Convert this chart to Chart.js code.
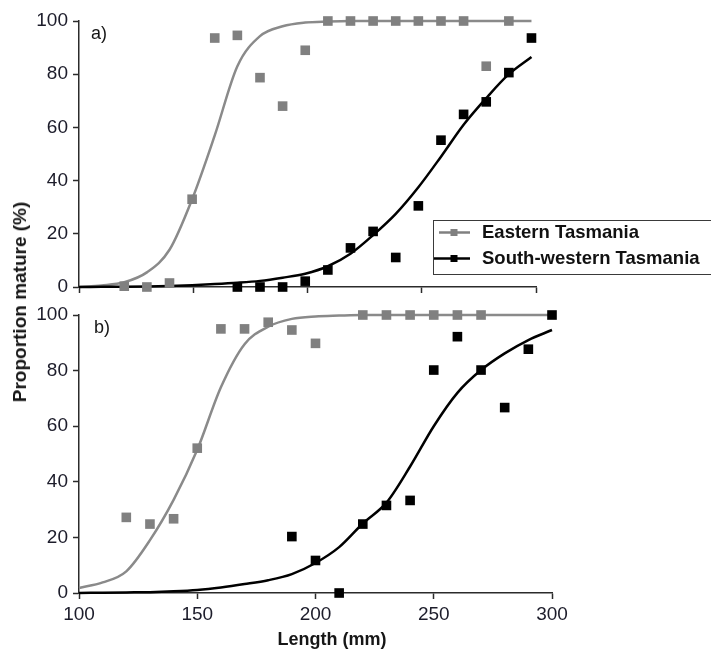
<!DOCTYPE html>
<html>
<head>
<meta charset="utf-8">
<script src="https://cdn.jsdelivr.net/npm/chart.js@4.4.1/dist/chart.umd.min.js"></script>
<style>
  html, body { margin: 0; padding: 0; background: #fff; }
  #wrap { position: relative; width: 711px; height: 649px; overflow: hidden; }
  #wrap canvas { position: absolute; left: 0; top: 0; }
  .lbl { position: absolute; font-family: "Liberation Sans", Arial, sans-serif; color: #161616; white-space: nowrap; }
  #ytitle { left: 20px; top: 302px; font-weight: bold; font-size: 19px; transform: translate(-50%, -50%) rotate(-90deg); }
  #xtitle { left: 332px; top: 639px; font-weight: bold; font-size: 18px; transform: translate(-50%, -50%); }
  #panelA { left: 91px; top: 33px; font-size: 18px; transform: translateY(-50%); }
  #panelB { left: 94px; top: 327px; font-size: 18px; transform: translateY(-50%); }
</style>
</head>
<body>
<div id="wrap">
  <canvas id="bottomChart" width="711" height="649"></canvas>
  <canvas id="topChart" width="711" height="649"></canvas>
  <div class="lbl" id="ytitle">Proportion mature (%)</div>
  <div class="lbl" id="xtitle">Length (mm)</div>
  <div class="lbl" id="panelA">a)</div>
  <div class="lbl" id="panelB">b)</div>
</div>
<script>
// Series names
const SERIES = ["Eastern Tasmania", "South-western Tasmania"];

// Axis ticks
const Y_TICK_STEP = 20;
const X_TICK_STEP = 50;

// Panel a) observed proportions
const TOP_EAST_X = [120, 130, 140, 150, 160, 170, 180, 190, 200, 210, 220, 230, 240, 250, 260, 270, 280, 290];
const TOP_EAST_Y = [0.3, 0, 1.5, 33, 93.6, 94.6, 78.7, 68, 89, 100, 100, 100, 100, 100, 100, 100, 83, 100];
const TOP_SW_X = [170, 180, 190, 200, 210, 220, 230, 240, 250, 260, 270, 280, 290, 300];
const TOP_SW_Y = [0, 0, 0, 2.2, 6.4, 14.7, 20.9, 11.1, 30.5, 55.2, 64.9, 69.6, 80.6, 93.6];

// Panel b) observed proportions
const BOT_EAST_X = [120, 130, 140, 150, 160, 170, 180, 190, 200, 220, 230, 240, 250, 260, 270];
const BOT_EAST_Y = [27.2, 24.8, 26.7, 52.1, 95, 95, 97.4, 94.6, 89.8, 100, 100, 100, 100, 100, 100];
const BOT_SW_X = [190, 200, 210, 220, 230, 240, 250, 260, 270, 280, 290, 300];
const BOT_SW_Y = [20.3, 11.7, 0, 24.8, 31.5, 33.3, 80.2, 92.2, 80.2, 66.7, 87.7, 100];

// Fitted curves, every 10 mm
const FIT_X = [100, 110, 120, 130, 140, 150, 160, 170, 180, 190, 200, 210, 220, 230, 240, 250, 260, 270, 280, 290, 300];
const TOP_EAST_FIT = [0, 0.6, 1.8, 5.5, 14, 33, 57, 83, 94.3, 98, 99.4, 99.8, 100, 100, 100, 100, 100, 100, 100, 100, 100];
const TOP_SW_FIT = [0, 0.05, 0.1, 0.2, 0.4, 0.7, 1.1, 1.6, 2.3, 3.5, 5, 7.8, 12.5, 19.5, 27.5, 37.5, 49, 61, 71, 80, 86.5];
const BOT_EAST_FIT = [1.8, 3.8, 7.8, 19, 33.5, 51.5, 74, 89.5, 95.8, 98.6, 99.5, 99.8, 100, 100, 100, 100, 100, 100, 100, 100, 100];
const BOT_SW_FIT = [0, 0.1, 0.2, 0.3, 0.6, 1.1, 2, 3.2, 4.6, 6.8, 10.8, 16.5, 25, 32.5, 45.5, 60, 72, 80.2, 86.2, 91, 94.6];

const GREY = "#808080";
const GREY_LINE = "#8a8a8a";
const BLACK = "#000000";
const AXIS = "#2b2b2b";
const TEXT = "#1c1c2a";
const TICK_FONT = { family: "'Liberation Sans', Arial, sans-serif", size: 19 };

const pts = (xs, ys) => xs.map((x, i) => ({ x: x, y: ys[i] }));

function panelDatasets(eastX, eastY, eastFit, swX, swY, swFit) {
  return [
    {
      label: SERIES[0], type: "scatter", data: pts(eastX, eastY),
      backgroundColor: GREY, borderWidth: 0, pointStyle: "rect", pointRadius: 6.8, order: 1, clip: false,
    },
    {
      label: SERIES[1], type: "scatter", data: pts(swX, swY),
      backgroundColor: BLACK, borderWidth: 0, pointStyle: "rect", pointRadius: 6.8, order: 0, clip: false,
    },
    {
      label: SERIES[0] + " (fit)", type: "line", data: pts(FIT_X, eastFit),
      borderColor: GREY_LINE, borderWidth: 2.5, pointRadius: 0, cubicInterpolationMode: "monotone", order: 3, clip: false,
    },
    {
      label: SERIES[1] + " (fit)", type: "line", data: pts(FIT_X, swFit),
      borderColor: BLACK, borderWidth: 2.5, pointRadius: 0, cubicInterpolationMode: "monotone", order: 2, clip: false,
    },
  ];
}

function panelScales(xMax, showXLabels, xHeight) {
  return {
    x: {
      type: "linear", min: 100, max: xMax,
      ticks: { stepSize: X_TICK_STEP, display: showXLabels, includeBounds: false, padding: 4, font: TICK_FONT, color: TEXT, maxRotation: 0 },
      grid: { drawOnChartArea: false, tickLength: 6, tickColor: AXIS, tickWidth: 1.5 },
      border: { color: AXIS, width: 1.5 },
      afterFit: (s) => { s.height = xHeight; },
    },
    y: {
      min: 0, max: 100,
      ticks: { stepSize: Y_TICK_STEP, padding: 5, font: TICK_FONT, color: TEXT },
      grid: { drawOnChartArea: false, tickLength: 6, tickColor: AXIS, tickWidth: 1.5 },
      border: { color: AXIS, width: 1.5 },
      afterFit: (s) => { s.width = 79; },
    },
  };
}

// Legend box drawn inside panel a)
const boxLegend = {
  id: "boxLegend",
  afterDraw(chart) {
    const ctx = chart.ctx;
    ctx.save();
    ctx.fillStyle = "#fff";
    ctx.fillRect(433, 220, 290, 55);
    ctx.strokeStyle = "#3a3a3a";
    ctx.lineWidth = 1;
    ctx.strokeRect(433.5, 220.5, 290, 54);
    const rows = [
      { text: SERIES[0], color: GREY, y: 232.5, x0: 439 },
      { text: SERIES[1], color: BLACK, y: 258.5, x0: 434 },
    ];
    rows.forEach((r) => {
      ctx.strokeStyle = r.color;
      ctx.lineWidth = 2.5;
      ctx.beginPath();
      ctx.moveTo(r.x0, r.y);
      ctx.lineTo(470, r.y);
      ctx.stroke();
      ctx.fillStyle = r.color;
      ctx.fillRect(450.5, r.y - 3.5, 7, 7);
      ctx.fillStyle = "#111";
      ctx.font = "bold 18.5px 'Liberation Sans', Arial, sans-serif";
      ctx.textBaseline = "middle";
      ctx.textAlign = "left";
      ctx.fillText(r.text, 482, r.y);
    });
    ctx.restore();
  },
};

const common = {
  responsive: false,
  animation: false,
  plugins: { legend: { display: false }, tooltip: { enabled: false } },
  events: [],
};

new Chart(document.getElementById("topChart").getContext("2d"), {
  type: "scatter",
  data: { datasets: panelDatasets(TOP_EAST_X, TOP_EAST_Y, TOP_EAST_FIT, TOP_SW_X, TOP_SW_Y, TOP_SW_FIT) },
  options: Object.assign({}, common, {
    layout: { padding: { left: 0, top: 21, right: 175, bottom: 352 } },
    scales: panelScales(302, false, 10),
  }),
  plugins: [boxLegend],
});

new Chart(document.getElementById("bottomChart").getContext("2d"), {
  type: "scatter",
  data: { datasets: panelDatasets(BOT_EAST_X, BOT_EAST_Y, BOT_EAST_FIT, BOT_SW_X, BOT_SW_Y, BOT_SW_FIT) },
  options: Object.assign({}, common, {
    layout: { padding: { left: 0, top: 315, right: 159, bottom: 0 } },
    scales: panelScales(300, true, 56),
  }),
});
</script>
</body>
</html>
